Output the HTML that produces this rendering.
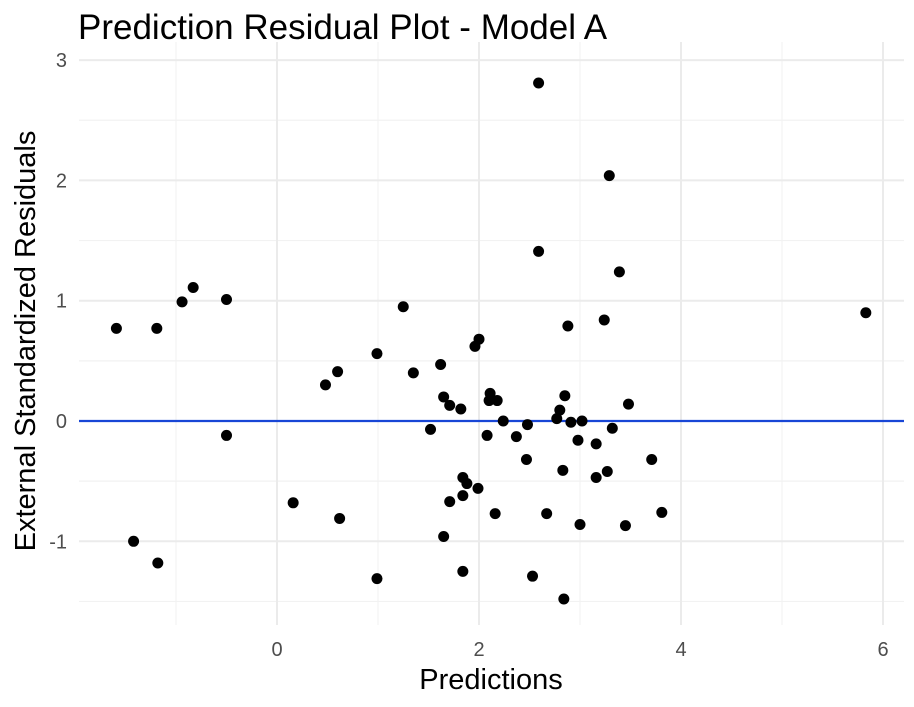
<!DOCTYPE html>
<html><head><meta charset="utf-8"><style>
body{margin:0;background:#fff;}
svg text{font-family:"Liberation Sans",Arial,sans-serif;}
</style></head><body>
<svg id="chart" width="914" height="702" xmlns="http://www.w3.org/2000/svg">
<text x="78" y="39" font-size="35" fill="#000">Prediction Residual Plot - Model A</text>
<g id="grid"></g>
<g id="ticks"></g>
<line id="zeroline" stroke="#1846d6" stroke-width="2.2"></line>
<g id="points"></g>
<text x="491" y="689" font-size="29" text-anchor="middle" fill="#000">Predictions</text>
<text transform="translate(35,341) rotate(-90)" font-size="29" text-anchor="middle" fill="#000">External Standardized Residuals</text>
</svg>
<script>
const predictions=[-1.59,-1.19,-0.94,-0.83,-0.50,-0.50,-1.42,-1.18,0.16,0.48,0.60,0.62,0.99,0.99,1.25,1.35,1.52,1.62,1.65,1.65,1.71,1.71,1.82,1.84,1.84,1.84,1.88,1.96,2.00,1.99,2.08,2.11,2.10,2.18,2.16,2.24,2.37,2.47,2.48,2.53,2.59,2.59,2.67,2.77,2.80,2.83,2.85,2.84,2.88,2.91,2.98,3.00,3.02,3.16,3.16,3.24,3.27,3.29,3.32,3.39,3.45,3.48,3.71,3.81,5.83];
const residuals=[0.77,0.77,0.99,1.11,1.01,-0.12,-1.0,-1.18,-0.68,0.30,0.41,-0.81,0.56,-1.31,0.95,0.40,-0.07,0.47,0.20,-0.96,0.13,-0.67,0.10,-0.47,-0.62,-1.25,-0.52,0.62,0.68,-0.56,-0.12,0.23,0.17,0.17,-0.77,0.0,-0.13,-0.32,-0.03,-1.29,2.81,1.41,-0.77,0.02,0.09,-0.41,0.21,-1.48,0.79,-0.01,-0.16,-0.86,0.0,-0.19,-0.47,0.84,-0.42,2.04,-0.06,1.24,-0.87,0.14,-0.32,-0.76,0.90];
const xTicks=[0,2,4,6];
const yTicks=[-1,0,1,2,3];
const xMinor=[-1,1,3,5];
const yMinor=[-1.5,-0.5,0.5,1.5,2.5];
const L=79,R=904,T=42,B=625;
const sx=v=>277+v*101;
const sy=v=>421-v*120.3;
const NS="http://www.w3.org/2000/svg";
function mk(tag,attrs,parent){const e=document.createElementNS(NS,tag);for(const k in attrs)e.setAttribute(k,attrs[k]);parent.appendChild(e);return e;}
const grid=document.getElementById('grid'),ticks=document.getElementById('ticks'),pts=document.getElementById('points');
yMinor.forEach(v=>{const l=mk('line',{x1:L,x2:R,y1:sy(v),y2:sy(v),stroke:'#f2f2f2','stroke-width':1.2},grid);

});
xMinor.forEach(v=>{const l=mk('line',{x1:sx(v),x2:sx(v),y1:T,y2:B,stroke:'#f2f2f2','stroke-width':1.2},grid);

});
yTicks.forEach(v=>{const l=mk('line',{x1:L,x2:R,y1:sy(v),y2:sy(v),stroke:'#ebebeb','stroke-width':2},grid);


const t=mk('text',{x:67,y:sy(v)+7,'font-size':20,fill:'#4d4d4d','text-anchor':'end'},ticks);t.textContent=v;

});
xTicks.forEach(v=>{const l=mk('line',{x1:sx(v),x2:sx(v),y1:T,y2:B,stroke:'#ebebeb','stroke-width':2},grid);


const t=mk('text',{x:sx(v),y:656,'font-size':20,fill:'#4d4d4d','text-anchor':'middle'},ticks);t.textContent=v;

});
const z=document.getElementById('zeroline');z.setAttribute('x1',L);z.setAttribute('x2',R);z.setAttribute('y1',sy(0));z.setAttribute('y2',sy(0));
predictions.forEach((p,i)=>{const c=mk('circle',{cx:sx(p),cy:sy(residuals[i]),r:5.5,fill:'#000'},pts);

});
</script>
</body></html>
